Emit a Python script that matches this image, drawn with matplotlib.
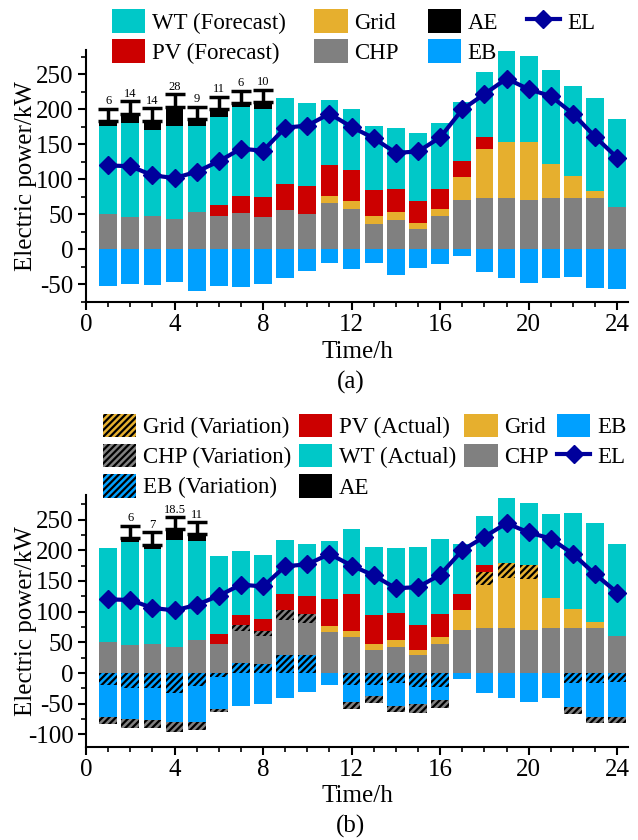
import matplotlib
matplotlib.use('Agg')
import matplotlib.pyplot as plt
from matplotlib.patches import Patch
from matplotlib.lines import Line2D
from matplotlib.ticker import MultipleLocator
import numpy as np

plt.rcParams.update({
    'font.family': ['Liberation Serif', 'DejaVu Serif'],
    'font.size': 18,
    'axes.unicode_minus': False,
    'hatch.linewidth': 1.6,
    'hatch.color': 'black',
    'axes.linewidth': 1.5,
    'xtick.major.width': 1.5,
    'ytick.major.width': 1.5,
    'xtick.minor.width': 1.2,
    'ytick.minor.width': 1.2,
    'xtick.major.size': 6,
    'ytick.major.size': 6,
    'xtick.minor.size': 3.5,
    'ytick.minor.size': 3.5,
    'xtick.major.pad': 3,
    'ytick.major.pad': 3,
})

# ---- data (kW per hour) ----
hours = np.arange(1, 25)
chp = [51, 46, 48, 43, 54, 48, 52, 46, 56, 51, 67, 58, 37, 42, 29, 48, 70, 73, 73, 70, 74, 73, 73, 61]
grid = [0, 0, 0, 0, 0, 0, 0, 0, 0, 0, 9, 11, 11, 11, 9, 10, 33, 71, 81, 83, 48, 32, 10, 0]
eb = [-52, -50, -51, -47, -59, -52, -54, -50, -41, -31, -19, -28, -19, -37, -27, -21, -10, -32, -41, -48, -41, -39, -55, -57]
el = [120, 119, 106, 102, 111, 126, 144, 141, 174, 177, 194, 175, 159, 138, 140, 160, 200, 222, 244, 229, 219, 194, 161, 131]

# day-ahead forecast case
wt_fc = [126, 134, 122, 133, 123, 125, 127, 125, 123, 118, 93, 88, 92, 88, 98, 93, 83, 93, 129, 123, 135, 128, 133, 125]
pv_fc = [0, 0, 0, 0, 0, 16, 24, 29, 37, 40, 44, 44, 37, 33, 31, 29, 24, 16, 0, 0, 0, 0, 0, 0]
ae_fc = [6, 14, 14, 28, 9, 11, 6, 10, 0, 0, 0, 0, 0, 0, 0, 0, 0, 0, 0, 0, 0, 0, 0, 0]

# actual case with adjustments
wt_act = [152, 168, 154, 173, 161, 126, 103, 104, 88, 85, 95, 106, 111, 106, 127, 122, 82, 79, 105, 101, 137, 155, 161, 150]
pv_act = [0, 0, 0, 0, 0, 16, 16, 20, 26, 29, 44, 59, 47, 44, 41, 38, 26, 11, 0, 0, 0, 0, 0, 0]
ae_act = [0, 6, 7, 18.5, 11, 0, 0, 0, 0, 0, 0, 0, 0, 0, 0, 0, 0, 0, 0, 0, 0, 0, 0, 0]
chp_var = [-11, -14, -14, -16, -13, -4, 10, 7, 16, 15, 0, -12, -11, -10, -15, -13, 0, 0, 0, 0, 0, -10, -10, -10]
grid_var = [0, 0, 0, 0, 0, 0, 0, 0, 0, 0, 0, 0, 0, 0, 0, 0, 0, 21, 26, 23, 0, 0, 0, 0]
eb_var = [-20, -25, -25, -33, -21, -7, 17, 15, 30, 30, 0, -19, -19, -17, -23, -23, 0, 0, 0, 0, 0, -17, -17, -15]

C_WT = '#00C8C8'
C_PV = '#CC0000'
C_GRID = '#E6AF2E'
C_CHP = '#808080'
C_AE = '#000000'
C_EB = '#00A0FF'
C_EL = '#00009C'
HATCH = '/////'


def stack(ax, series):
    # positive parts pile upwards, negative parts pile downwards from zero
    pos = np.zeros(len(hours))
    neg = np.zeros(len(hours))
    for vals, color, hatch in series:
        v = np.asarray(vals, dtype=float)
        base = np.where(v >= 0, pos, neg)
        ax.bar(hours, v, width=0.8, bottom=base, color=color, hatch=hatch,
               edgecolor='black' if hatch else color, linewidth=0)
        pos += np.clip(v, 0, None)
        neg += np.clip(v, None, 0)
    return pos


def ae_bars(ax, top, ae, whisker):
    ae = np.asarray(ae, dtype=float)
    idx = ae > 0
    ax.errorbar(hours[idx], top[idx], yerr=[np.zeros(idx.sum()), np.full(idx.sum(), whisker)],
                fmt='none', ecolor='black', elinewidth=2.5, capsize=7, capthick=2.5, zorder=4)
    for h, t, v in zip(hours[idx], top[idx], ae[idx]):
        ax.text(h, t + whisker + 2, f'{v:g}', ha='center', va='bottom', fontsize=9)


def style(ax, ylim):
    ax.set_xlim(0, 24.5)
    ax.set_ylim(*ylim)
    ax.xaxis.set_major_locator(MultipleLocator(4))
    ax.xaxis.set_minor_locator(MultipleLocator(1))
    ax.yaxis.set_major_locator(MultipleLocator(50))
    ax.yaxis.set_minor_locator(MultipleLocator(25))
    ax.spines['top'].set_visible(False)
    ax.spines['right'].set_visible(False)
    ax.set_xlabel('Time/h', labelpad=3)
    ax.set_ylabel('Electric power/kW')
    ax.yaxis.set_label_coords(-0.09, 0.5)


leg_kw = dict(ncol=4, frameon=False, handlelength=1.45, handleheight=1.2,
              handletextpad=0.3, labelspacing=0.25, borderpad=0,
              borderaxespad=0, loc='upper left', fontsize=16.5)
el_handle = Line2D([], [], color=C_EL, lw=3, marker='D', ms=9, label='EL')

fig = plt.figure(figsize=(6.38, 8.4), dpi=100)

# ---- (a) forecast ----
ax1 = fig.add_axes([0.1348, 0.6405, 0.85, 0.300])
top_a = stack(ax1, [(eb, C_EB, None), (chp, C_CHP, None), (grid, C_GRID, None),
                    (pv_fc, C_PV, None), (wt_fc, C_WT, None)])
ax1.bar(hours, ae_fc, width=0.8, bottom=top_a, color=C_AE, linewidth=0)
ae_bars(ax1, top_a + np.asarray(ae_fc), ae_fc, 18)
ax1.plot(hours, el, color=C_EL, lw=3, marker='D', ms=9, zorder=5)
style(ax1, (-75, 285))

handles_a = [Patch(facecolor=C_WT, label='WT (Forecast)'), Patch(facecolor=C_PV, label='PV (Forecast)'),
             Patch(facecolor=C_GRID, label='Grid'), Patch(facecolor=C_CHP, label='CHP'),
             Patch(facecolor=C_AE, label='AE'), Patch(facecolor=C_EB, label='EB'), el_handle]
fig.legend(handles=handles_a, bbox_to_anchor=(0.175, 0.989), columnspacing=1.25, **leg_kw)
fig.text(0.549, 0.545, '(a)', ha='center', va='center', fontsize=18)

# ---- (b) actual ----
ax2 = fig.add_axes([0.1348, 0.1111, 0.85, 0.2996])
top_b = stack(ax2, [(eb_var, C_EB, HATCH), (eb, C_EB, None), (chp, C_CHP, None),
                    (chp_var, C_CHP, HATCH), (grid, C_GRID, None), (grid_var, C_GRID, HATCH),
                    (pv_act, C_PV, None), (wt_act, C_WT, None)])
ax2.bar(hours, ae_act, width=0.8, bottom=top_b, color=C_AE, linewidth=0)
ae_bars(ax2, top_b + np.asarray(ae_act), ae_act, 20)
ax2.plot(hours, el, color=C_EL, lw=3, marker='D', ms=9, zorder=5)
style(ax2, (-120, 290))

handles_b = [Patch(facecolor=C_GRID, edgecolor='black', hatch=HATCH, linewidth=0, label='Grid (Variation)'),
             Patch(facecolor=C_CHP, edgecolor='black', hatch=HATCH, linewidth=0, label='CHP (Variation)'),
             Patch(facecolor=C_EB, edgecolor='black', hatch=HATCH, linewidth=0, label='EB (Variation)'),
             Patch(facecolor=C_PV, label='PV (Actual)'), Patch(facecolor=C_WT, label='WT (Actual)'),
             Patch(facecolor=C_AE, label='AE'),
             Patch(facecolor=C_GRID, label='Grid'), Patch(facecolor=C_CHP, label='CHP'),
             Patch(facecolor=C_EB, label='EB'), el_handle]
fig.legend(handles=handles_b, bbox_to_anchor=(0.161, 0.5076), columnspacing=0.35, **leg_kw)
fig.text(0.549, 0.0167, '(b)', ha='center', va='center', fontsize=18)

fig.savefig('out.png', dpi=100)
plt.close(fig)
